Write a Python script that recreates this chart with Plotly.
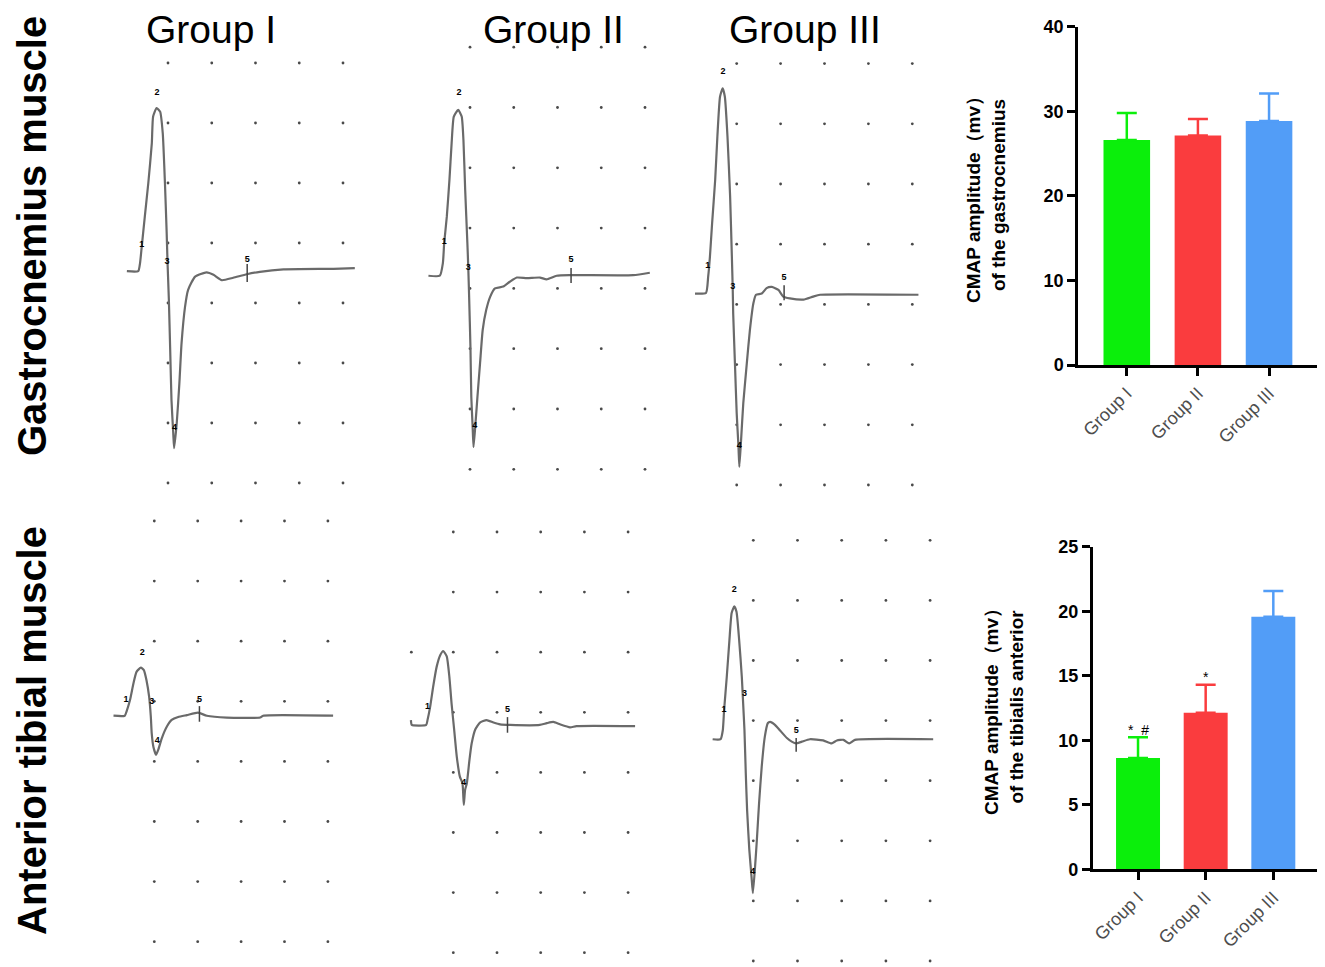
import plotly.graph_objects as go

# page is drawn with an 8px body margin, so the figure is shifted back by that much
OFF = 8
W, H = 1325 - OFF, 967 - OFF


def fx(px):
    return (px - OFF) / W


def fy(py):
    return 1 - (py - OFF) / H


# bar chart data (CMAP amplitude, mV)
groups = ["Group I", "Group II", "Group III"]
bar_colors = ["#0BEF0B", "#FA3C3E", "#529DF7"]
gas_mean = [26.6, 27.15, 28.85]
gas_sd = [3.2, 1.95, 3.25]
tib_mean = [8.63, 12.14, 19.58]
tib_sd = [1.6, 2.17, 1.99]
tib_marks = ["*  #", "*", ""]

# dot grid of the EMG screen (divisions)
grid_cols = [0, 1, 2, 3, 4]
grid_rows = [0, 1, 2, 3, 4, 5, 6, 7]

# EMG traces, x/y in screen divisions
gas1_x = [-0.94, -0.68, -0.64, -0.60, -0.53, -0.45, -0.37, -0.34, -0.26, -0.18,
          -0.12, -0.07, -0.03, -0.01, 0.02, 0.05, 0.08, 0.12, 0.14, 0.20,
          0.26, 0.31, 0.39, 0.46, 0.62, 0.88, 1.04, 1.23, 1.49, 1.80,
          2.10, 2.64, 3.78, 4.27]
gas1_y = [3.53, 3.53, 3.66, 3.94, 4.44, 5.00, 5.66, 6.11, 6.25, 6.19,
          5.83, 5.00, 4.16, 3.66, 3.05, 2.22, 1.38, 0.83, 0.58, 1.00,
          1.66, 2.33, 2.94, 3.22, 3.44, 3.51, 3.47, 3.38, 3.42, 3.48,
          3.52, 3.56, 3.57, 3.58]
gas2_x = [-0.95, -0.69, -0.62, -0.59, -0.53, -0.47, -0.42, -0.37, -0.27, -0.19,
          -0.15, -0.11, -0.06, -0.04, -0.02, 0.01, 0.03, 0.06, 0.08, 0.12,
          0.17, 0.23, 0.29, 0.37, 0.46, 0.57, 0.76, 0.91, 1.07, 1.30,
          1.60, 1.75, 1.98, 2.30, 3.73, 4.11]
gas2_y = [3.21, 3.21, 3.42, 3.75, 4.19, 4.80, 5.41, 5.85, 5.96, 5.85,
          5.46, 4.63, 3.75, 3.36, 2.86, 2.03, 1.20, 0.71, 0.37, 0.71,
          1.20, 1.76, 2.31, 2.64, 2.86, 3.00, 3.03, 3.11, 3.18, 3.17,
          3.18, 3.15, 3.21, 3.22, 3.22, 3.26]
gas3_x = [-0.95, -0.70, -0.65, -0.61, -0.56, -0.49, -0.44, -0.38, -0.32, -0.27,
          -0.21, -0.15, -0.11, -0.09, -0.08, -0.04, 0.00, 0.04, 0.06, 0.10,
          0.15, 0.23, 0.30, 0.38, 0.44, 0.57, 0.68, 0.80, 0.95, 1.06,
          1.21, 1.52, 1.74, 1.90, 4.14]
gas3_y = [3.18, 3.19, 3.46, 3.79, 4.35, 5.07, 5.79, 6.45, 6.59, 6.45,
          5.79, 4.79, 3.79, 3.24, 2.85, 2.02, 1.19, 0.64, 0.30, 0.75,
          1.36, 2.02, 2.57, 3.02, 3.16, 3.18, 3.27, 3.29, 3.24, 3.13,
          3.10, 3.08, 3.13, 3.16, 3.16]
tib1_x = [-0.94, -0.68, -0.64, -0.56, -0.48, -0.41, -0.31, -0.24, -0.18, -0.12,
          -0.08, -0.06, -0.02, 0.04, 0.09, 0.17, 0.29, 0.40, 0.55, 0.75,
          1.01, 1.21, 1.67, 2.44, 2.51, 4.12]
tib1_y = [3.76, 3.76, 3.83, 4.02, 4.30, 4.49, 4.56, 4.52, 4.35, 4.08,
          3.74, 3.47, 3.24, 3.11, 3.19, 3.38, 3.58, 3.69, 3.74, 3.77,
          3.81, 3.76, 3.73, 3.73, 3.76, 3.76]
tib2_x = [-0.97, -0.95, -0.62, -0.59, -0.53, -0.46, -0.38, -0.30, -0.23, -0.15,
          -0.09, -0.04, 0.02, 0.08, 0.15, 0.21, 0.24, 0.27, 0.31, 0.37,
          0.42, 0.50, 0.61, 0.76, 0.92, 1.07, 1.30, 1.98, 2.14, 2.29,
          2.44, 2.67, 2.82, 4.16]
tib2_y = [3.87, 3.79, 3.79, 3.87, 4.09, 4.43, 4.76, 4.95, 5.02, 4.93,
          4.59, 4.15, 3.71, 3.26, 2.93, 2.82, 2.46, 2.71, 2.82, 3.21,
          3.48, 3.71, 3.83, 3.87, 3.83, 3.80, 3.79, 3.79, 3.82, 3.84,
          3.80, 3.75, 3.77, 3.77]
tib3_x = [-0.92, -0.74, -0.69, -0.66, -0.60, -0.54, -0.49, -0.43, -0.38, -0.32,
          -0.26, -0.23, -0.20, -0.17, -0.14, -0.09, -0.04, -0.01, 0.04, 0.08,
          0.13, 0.19, 0.26, 0.33, 0.38, 0.49, 0.60, 0.76, 0.87, 0.97,
          1.10, 1.28, 1.58, 1.77, 1.89, 2.04, 2.17, 2.30, 4.07]
tib3_y = [3.69, 3.69, 3.84, 4.18, 4.73, 5.34, 5.79, 5.90, 5.81, 5.34,
          4.73, 4.29, 3.84, 3.12, 2.51, 1.85, 1.40, 1.13, 1.57, 2.01,
          2.62, 3.23, 3.73, 3.96, 3.98, 3.93, 3.84, 3.71, 3.65, 3.62,
          3.65, 3.69, 3.67, 3.62, 3.67, 3.68, 3.62, 3.68, 3.69]

# cursor markers on each trace
gas1_mk = ([-0.60, -0.25, -0.02, 0.15, 1.81], [3.97, 6.50, 3.68, 0.92, 3.72], ["1", "2", "3", "4", "5"])
gas2_mk = ([-0.59, -0.25, -0.04, 0.11, 2.31], [3.77, 6.24, 3.35, 0.72, 3.47], ["1", "2", "3", "4", "5"])
gas3_mk = ([-0.66, -0.31, -0.09, 0.06, 1.08], [3.64, 6.87, 3.29, 0.66, 3.45], ["1", "2", "3", "4", "5"])
tib1_mk = ([-0.65, -0.28, -0.06, 0.07, 1.04], [4.02, 4.81, 3.99, 3.34, 4.03], ["1", "2", "3", "4", "5"])
tib2_mk = ([-0.59, 0.24, 1.24], [4.09, 2.82, 4.05], ["1", "4", "5"])
tib3_mk = ([-0.66, -0.43, -0.20, -0.01, 0.97], [4.18, 6.18, 4.44, 1.49, 3.83], ["1", "2", "3", "4", "5"])
gas1_tick = ([1.81, 1.81], [3.35, 3.65])
gas2_tick = ([2.31, 2.31], [3.09, 3.34])
gas3_tick = ([1.08, 1.08], [3.07, 3.32])
tib1_tick = ([1.04, 1.04], [3.66, 3.92])
tib2_tick = ([1.24, 1.24], [3.66, 3.92])
tib3_tick = ([0.97, 0.97], [3.48, 3.71])

# panel placement: box (left, right, top, bottom px) and grid calibration
# (x px of column 0, px per column, y px of row 0, px per row)
panels = [
    (gas1_x, gas1_y, gas1_mk, gas1_tick, (110, 372, 45, 500), (168, 43.75, 483, 60.0)),
    (gas2_x, gas2_y, gas2_mk, gas2_tick, (415, 660, 35, 490), (470, 43.75, 469.3, 60.3)),
    (gas3_x, gas3_y, gas3_mk, gas3_tick, (685, 935, 50, 500), (736.7, 43.9, 485, 60.2)),
    (tib1_x, tib1_y, tib1_mk, tib1_tick, (105, 345, 505, 960), (154.3, 43.4, 941.7, 60.1)),
    (tib2_x, tib2_y, tib2_mk, tib2_tick, (400, 645, 515, 965), (453.3, 43.7, 952.7, 60.1)),
    (tib3_x, tib3_y, tib3_mk, tib3_tick, (700, 945, 525, 967), (753.3, 44.2, 961, 60.1)),
]

fig = go.Figure()
layout = {}

dot_x = [c for r in grid_rows for c in grid_cols]
dot_y = [r for r in grid_rows for c in grid_cols]

for i, (wx, wy, mk, tk, box, cal) in enumerate(panels):
    n = i + 1
    sfx = "" if n == 1 else str(n)
    x0, x1, y0, y1 = box
    c0, sx, r0, sy = cal
    layout["xaxis" + sfx] = dict(domain=[fx(x0), fx(x1)],
                                 range=[(x0 - c0) / sx, (x1 - c0) / sx],
                                 visible=False, automargin=False, anchor="y" + sfx)
    layout["yaxis" + sfx] = dict(domain=[fy(y1), fy(y0)],
                                 range=[(r0 - y1) / sy, (r0 - y0) / sy],
                                 visible=False, automargin=False, anchor="x" + sfx)
    dx, dy = list(dot_x), list(dot_y)
    if n == 5:
        dx.append(-0.96)
        dy.append(5)
    fig.add_trace(go.Scatter(x=dx, y=dy, mode="markers", xaxis="x" + sfx, yaxis="y" + sfx,
                             marker=dict(size=2.8, color="#4a4a4a"), cliponaxis=False,
                             hoverinfo="skip"))
    fig.add_trace(go.Scatter(x=wx, y=wy, mode="lines", xaxis="x" + sfx, yaxis="y" + sfx,
                             line=dict(color="#6a6a6a", width=2.2, shape="spline", smoothing=0.5)))
    fig.add_trace(go.Scatter(x=tk[0], y=tk[1], mode="lines", xaxis="x" + sfx, yaxis="y" + sfx,
                             line=dict(color="#444444", width=1.5)))
    fig.add_trace(go.Scatter(x=mk[0], y=mk[1], text=mk[2], mode="text", xaxis="x" + sfx,
                             yaxis="y" + sfx, cliponaxis=False,
                             textfont=dict(family="Liberation Sans", size=9, color="black",
                                           weight="bold")))

# bar charts, one trace per group so each error bar takes its bar colour
for k in range(3):
    fig.add_trace(go.Bar(x=[k], y=[gas_mean[k]], width=0.655, xaxis="x7", yaxis="y7",
                         marker=dict(color=bar_colors[k], line=dict(width=0)),
                         error_y=dict(type="data", array=[gas_sd[k]], arrayminus=[0],
                                      symmetric=False, color=bar_colors[k],
                                      thickness=2.5, width=10)))
    fig.add_trace(go.Bar(x=[k], y=[tib_mean[k]], width=0.65, xaxis="x8", yaxis="y8",
                         marker=dict(color=bar_colors[k], line=dict(width=0)),
                         error_y=dict(type="data", array=[tib_sd[k]], arrayminus=[0],
                                      symmetric=False, color=bar_colors[k],
                                      thickness=2.5, width=10)))

bar_axis = dict(showline=True, linecolor="black", linewidth=2.5, ticks="outside",
                ticklen=8, tickwidth=2.5, tickcolor="black", showgrid=False,
                zeroline=False, automargin=False)
xt_font = dict(family="Liberation Sans", size=18, color="#4d4d4d")
yt_font = dict(family="Liberation Sans", size=18, color="black", weight="bold")

layout["xaxis7"] = dict(bar_axis, domain=[fx(1078), fx(1316.7)], range=[-0.686, 2.67],
                        tickvals=[0, 1, 2], ticktext=groups, tickangle=-45,
                        tickfont=xt_font, anchor="y7")
layout["yaxis7"] = dict(bar_axis, domain=[fy(365), fy(26.7)], range=[0, 40],
                        tickvals=[0, 10, 20, 30, 40], tickfont=yt_font, anchor="x7")
layout["xaxis8"] = dict(bar_axis, domain=[fx(1092.7), fx(1320)], range=[-0.67, 2.69],
                        tickvals=[0, 1, 2], ticktext=groups, tickangle=-45,
                        tickfont=xt_font, anchor="y8")
layout["yaxis8"] = dict(bar_axis, domain=[fy(869.3), fy(546.7)], range=[0, 25],
                        tickvals=[0, 5, 10, 15, 20, 25], tickfont=yt_font, anchor="x8")

annotations = []
# significance marks above the tibialis bars
for k, m in enumerate(tib_marks):
    if m:
        annotations.append(dict(x=k, y=tib_mean[k] + tib_sd[k] + 0.6, xref="x8", yref="y8",
                                text=m, showarrow=False,
                                font=dict(family="Liberation Sans", size=14, color="black")))

# group titles and row labels
for txt, px, py in [("Group I", 211, 30), ("Group II", 553, 30), ("Group III", 805, 30)]:
    annotations.append(dict(x=fx(px), y=fy(py), xref="paper", yref="paper", text=txt,
                            showarrow=False, xanchor="center", yanchor="middle",
                            font=dict(family="Liberation Sans", size=39, color="black")))
for txt, py in [("Gastrocnemius muscle", 236), ("Anterior tibial muscle", 731)]:
    annotations.append(dict(x=0, y=fy(py), xref="paper", yref="paper", text=txt,
                            showarrow=False, textangle=-90, xanchor="left", yanchor="middle",
                            font=dict(family="Liberation Sans", size=40, color="black",
                                      weight="bold")))
for txt, px, py in [("CMAP amplitude（mv）<br>of the gastrocnemius", 986, 195),
                    ("CMAP amplitude（mv）<br>of the tibialis anterior", 1004, 707)]:
    annotations.append(dict(x=fx(px), y=fy(py), xref="paper", yref="paper", text=txt,
                            showarrow=False, textangle=-90, xanchor="center", yanchor="middle",
                            font=dict(family="Liberation Sans", size=19, color="black",
                                      weight="bold")))

fig.update_layout(width=W, height=H, margin=dict(l=0, r=0, t=0, b=0),
                  paper_bgcolor="white", plot_bgcolor="white", showlegend=False,
                  annotations=annotations, **layout)

fig.write_html("out.html")
